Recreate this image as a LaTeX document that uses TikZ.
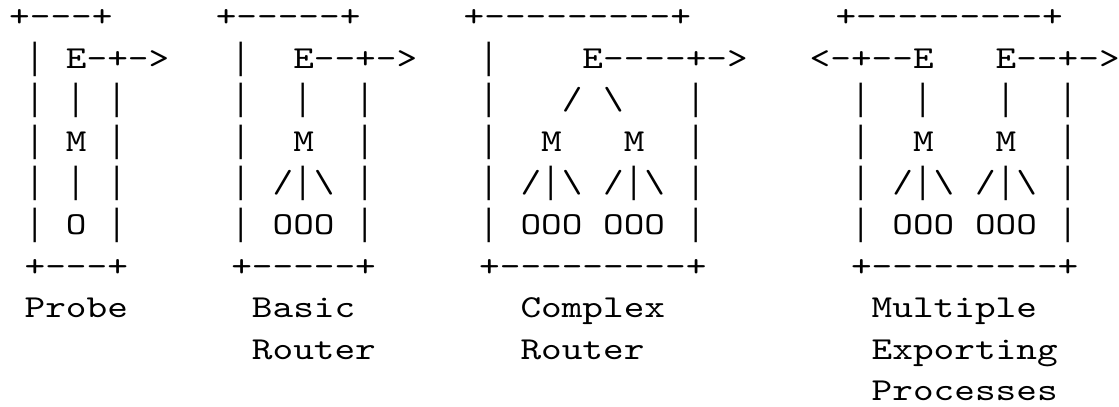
\documentclass[tikz,border=0pt]{standalone}
\usepackage{fontspec}
\usepackage{graphicx}
\usepackage{tikz}
\newfontfamily\artfont[Ligatures=TeXOff]{lmmono10-regular.otf}
\newfontfamily\barfont{Liberation Serif}
\newcommand\bs{\textbackslash}
\newcommand\pipe{\makebox[0.525em]{\barfont\fontsize{38}{40}\selectfont|}}
\newcommand\wide[1]{\scalebox{1.23}[1]{#1}}

\begin{document}
\begin{tikzpicture}[x=20.66pt, y=-41.6pt,
  art/.style={font=\artfont\fontsize{32}{38}\selectfont, anchor=base west, inner sep=0pt, outer sep=0pt}]
\useasboundingbox (-1.194,-0.635) rectangle (52.97,9.125);
% Probe
\node[art] (p0) at (-0.75,0) {\wide{+---+}};
\node[art] (p1) at (0,1) {\wide{\pipe~E-+->}};
\node[art] (p2) at (0,2) {\wide{\pipe~\pipe~\pipe}};
\node[art] (p3) at (0,3) {\wide{\pipe~M~\pipe}};
\node[art] (p4) at (0,4) {\wide{\pipe~\pipe~\pipe}};
\node[art] (p5) at (0,5) {\wide{\pipe~O~\pipe}};
\node[art] (p6) at (0,6) {\wide{+---+}};
\node[art] (p7) at (0,7) {\wide{Probe}};
% Basic Router
\node[art] (b0) at (9.25,0) {\wide{+-----+}};
\node[art] (b1) at (10,1) {\wide{\pipe~~E--+->}};
\node[art] (b2) at (10,2) {\wide{\pipe~~\pipe~~\pipe}};
\node[art] (b3) at (10,3) {\wide{\pipe~~M~~\pipe}};
\node[art] (b4) at (10,4) {\wide{\pipe~/\pipe\bs{}~\pipe}};
\node[art] (b5) at (10,5) {\wide{\pipe~OOO~\pipe}};
\node[art] (b6) at (10,6) {\wide{+-----+}};
\node[art] (b7) at (11,7) {\wide{Basic}};
\node[art] (b8) at (11,8) {\wide{Router}};
% Complex Router
\node[art] (c0) at (21.25,0) {\wide{+---------+}};
\node[art] (c1) at (22,1) {\wide{\pipe~~~~E----+->}};
\node[art] (c2) at (22,2) {\wide{\pipe~~~/~\bs{}~~~\pipe}};
\node[art] (c3) at (22,3) {\wide{\pipe~~M~~~M~~\pipe}};
\node[art] (c4) at (22,4) {\wide{\pipe~/\pipe\bs{}~/\pipe\bs{}~\pipe}};
\node[art] (c5) at (22,5) {\wide{\pipe~OOO~OOO~\pipe}};
\node[art] (c6) at (22,6) {\wide{+---------+}};
\node[art] (c7) at (24,7) {\wide{Complex}};
\node[art] (c8) at (24,8) {\wide{Router}};
% Multiple Exporting Processes
\node[art] (m0) at (39.25,0) {\wide{+---------+}};
\node[art] (m1) at (38,1) {\wide{<-+--E~~~E--+->}};
\node[art] (m2) at (40,2) {\wide{\pipe~~\pipe~~~\pipe~~\pipe}};
\node[art] (m3) at (40,3) {\wide{\pipe~~M~~~M~~\pipe}};
\node[art] (m4) at (40,4) {\wide{\pipe~/\pipe\bs{}~/\pipe\bs{}~\pipe}};
\node[art] (m5) at (40,5) {\wide{\pipe~OOO~OOO~\pipe}};
\node[art] (m6) at (40,6) {\wide{+---------+}};
\node[art] (m7) at (41,7) {\wide{Multiple}};
\node[art] (m8) at (41,8) {\wide{Exporting}};
\node[art] (m9) at (41,9) {\wide{Processes}};
\end{tikzpicture}
\end{document}
